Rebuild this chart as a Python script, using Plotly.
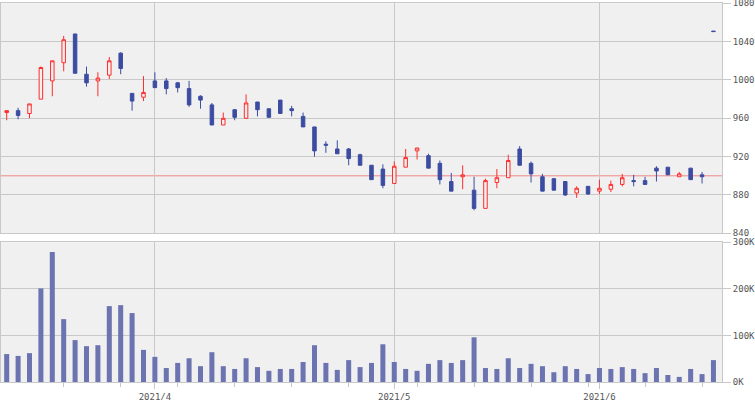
import plotly.graph_objects as go
import datetime as dt

# ---- data ----
dates = [
    "2021-03-15", "2021-03-16", "2021-03-17", "2021-03-18", "2021-03-19",
    "2021-03-22", "2021-03-23", "2021-03-24", "2021-03-25", "2021-03-26",
    "2021-03-29", "2021-03-30", "2021-03-31",
    "2021-04-01", "2021-04-02", "2021-04-05", "2021-04-06", "2021-04-07",
    "2021-04-08", "2021-04-09", "2021-04-12", "2021-04-13", "2021-04-14",
    "2021-04-15", "2021-04-16", "2021-04-19", "2021-04-20", "2021-04-21",
    "2021-04-22", "2021-04-23", "2021-04-26", "2021-04-27", "2021-04-28",
    "2021-04-30",
    "2021-05-06", "2021-05-07", "2021-05-10", "2021-05-11", "2021-05-12",
    "2021-05-13", "2021-05-14", "2021-05-17", "2021-05-18", "2021-05-19",
    "2021-05-20", "2021-05-21", "2021-05-24", "2021-05-25", "2021-05-26",
    "2021-05-27", "2021-05-28", "2021-05-31",
    "2021-06-01", "2021-06-02", "2021-06-03", "2021-06-04", "2021-06-07",
    "2021-06-08", "2021-06-09", "2021-06-10", "2021-06-11", "2021-06-14",
    "2021-06-15",
]

open_ = [966, 968, 965, 980, 999, 1018, 1048, 1006, 999, 1005,
         1028, 986, 982, 999, 999, 997, 991, 983, 974, 953,
         969, 960, 977, 970, 979, 970, 962, 951, 933, 928,
         928, 922, 911, 907, 892, 909, 926, 921, 913, 894,
         899, 885, 866, 893, 898, 928, 913, 899, 897, 894,
         882, 889, 884, 886, 891, 895, 895, 908, 909, 899,
         908, 901, 1051]
high = [968, 971, 975, 1014, 1020, 1046, 1048, 1014, 1008, 1024,
        1029, 986, 1004, 1008, 1002, 998, 999, 984, 976, 966,
        969, 985, 977, 970, 979, 973, 966, 951, 936, 937,
        929, 923, 911, 912, 915, 928, 929, 923, 916, 903,
        911, 899, 897, 907, 922, 931, 915, 902, 897, 894,
        889, 889, 896, 895, 902, 901, 899, 910, 909, 904,
        908, 904, 1051]
low = [958, 959, 960, 980, 983, 1009, 1007, 993, 983, 1001,
       1006, 968, 978, 992, 985, 987, 972, 970, 953, 953,
       958, 960, 962, 961, 965, 962, 951, 920, 924, 923,
       911, 911, 896, 887, 892, 909, 917, 908, 891, 884,
       886, 864, 866, 887, 898, 911, 893, 884, 885, 879,
       877, 880, 881, 883, 889, 889, 891, 894, 901, 899,
       896, 892, 1050.5]
close = [968, 963, 975, 1013, 1020, 1042, 1007, 997, 1002, 1020,
         1012, 978, 987, 992, 991, 992, 974, 979, 953, 960,
         961, 976, 969, 961, 965, 968, 951, 926, 932, 923,
         918, 911, 896, 890, 910, 919, 929, 908, 896, 884,
         901, 866, 895, 898, 916, 911, 902, 884, 885, 880,
         887, 881, 887, 891, 898, 894, 891, 905, 901, 902,
         896, 899, 1050.5]
volume_k = [60, 56, 62, 201, 279, 135, 90, 77, 79, 163,
            165, 148, 69, 54, 30, 41, 51, 34, 64, 34,
            28, 51, 32, 24, 28, 28, 43, 79, 41, 26,
            47, 32, 41, 81, 43, 28, 24, 39, 47, 41,
            47, 96, 30, 28, 51, 30, 39, 34, 21, 34,
            28, 17, 30, 28, 32, 28, 19, 30, 15, 11,
            28, 17, 47]
ref_price = 900
price_ticks = [840, 880, 920, 960, 1000, 1040, 1080]
volume_ticks = [0, 100, 200, 300]
volume_tick_labels = ["0K", "100K", "200K", "300K"]

# ---- derived ----
xs = list(range(len(dates)))
volume = [v * 1000 for v in volume_k]
parsed = [dt.date.fromisoformat(d) for d in dates]
month_idx, month_txt = [], []
for i, d in enumerate(parsed):
    if i > 0 and d.month != parsed[i - 1].month:
        month_idx.append(i)
        month_txt.append(f"{d.year}/{d.month}")
week_idx = [i for i, d in enumerate(parsed) if i > 0 and d.weekday() < parsed[i - 1].weekday()]

BLUE = "#3c4ca0"
RED = "#ff2d2d"
BG = "#f0f0f0"
GRID = "#c8c8c8"
FONT = dict(family="DejaVu Sans Mono", size=9, color="#555555")

fig = go.Figure()
fig.add_trace(go.Candlestick(
    x=xs, open=open_, high=high, low=low, close=close,
    increasing=dict(line=dict(color=RED, width=1), fillcolor=BG),
    decreasing=dict(line=dict(color=BLUE, width=1), fillcolor=BLUE),
    whiskerwidth=0, xaxis="x", yaxis="y", showlegend=False, hoverinfo="skip",
))
fig.add_trace(go.Bar(
    x=xs, y=volume, marker=dict(color="#6b74b0", line=dict(width=0)),
    width=0.44, xaxis="x2", yaxis="y2", showlegend=False, hoverinfo="skip",
))

fig.add_shape(type="line", xref="x domain", yref="y", x0=0, x1=1,
              y0=ref_price, y1=ref_price, line=dict(color="#f08888", width=1),
              layer="below")

xr = [-0.5, 62.75]
common_x = dict(range=xr, tickmode="array", tickvals=month_idx, ticktext=month_txt,
                showgrid=True, gridcolor=GRID, gridwidth=1, zeroline=False,
                showline=True, mirror=True, linecolor=GRID, linewidth=1,
                tickfont=FONT, fixedrange=True, automargin=False,
                ticklabeloverflow="allow")
fig.update_layout(
    template="none",
    width=755, height=400,
    margin=dict(l=1, r=33, t=0, b=0),
    paper_bgcolor="white", plot_bgcolor=BG,
    boxgap=0.56,
    xaxis=dict(domain=[0, 1], anchor="y", showticklabels=False, ticks="",
               rangeslider=dict(visible=False), **common_x),
    xaxis2=dict(domain=[0, 1], anchor="y2", matches="x", ticks="outside",
                ticklen=6, tickcolor=GRID, showticklabels=True,
                minor=dict(tickmode="array", tickvals=week_idx, ticks="outside",
                           ticklen=4, tickcolor=GRID, showgrid=False),
                **common_x),
    yaxis=dict(domain=[1 - 233.3 / 400, 1 - 3.3 / 400], anchor="x", side="right",
               range=[840, 1080], tickmode="array", tickvals=price_ticks,
               showgrid=True, gridcolor=GRID, zeroline=False,
               showline=True, mirror=True, linecolor=GRID,
               ticks="outside", ticklen=8, tickcolor=GRID, tickfont=FONT,
               fixedrange=True, automargin=False, ticklabeloverflow="allow"),
    yaxis2=dict(domain=[1 - 382 / 400, 1 - 242.3 / 400], anchor="x2", side="right",
                range=[0, 300000], tickmode="array",
                tickvals=[v * 1000 for v in volume_ticks], ticktext=volume_tick_labels,
                showgrid=True, gridcolor=GRID, zeroline=False,
                showline=True, mirror=True, linecolor=GRID,
                ticks="outside", ticklen=8, tickcolor=GRID, tickfont=FONT,
                fixedrange=True, automargin=False, ticklabeloverflow="allow"),
)

fig.write_html("out.html", config={"displayModeBar": False},
               post_script="document.body.style.margin='0';document.body.style.overflow='hidden';")
